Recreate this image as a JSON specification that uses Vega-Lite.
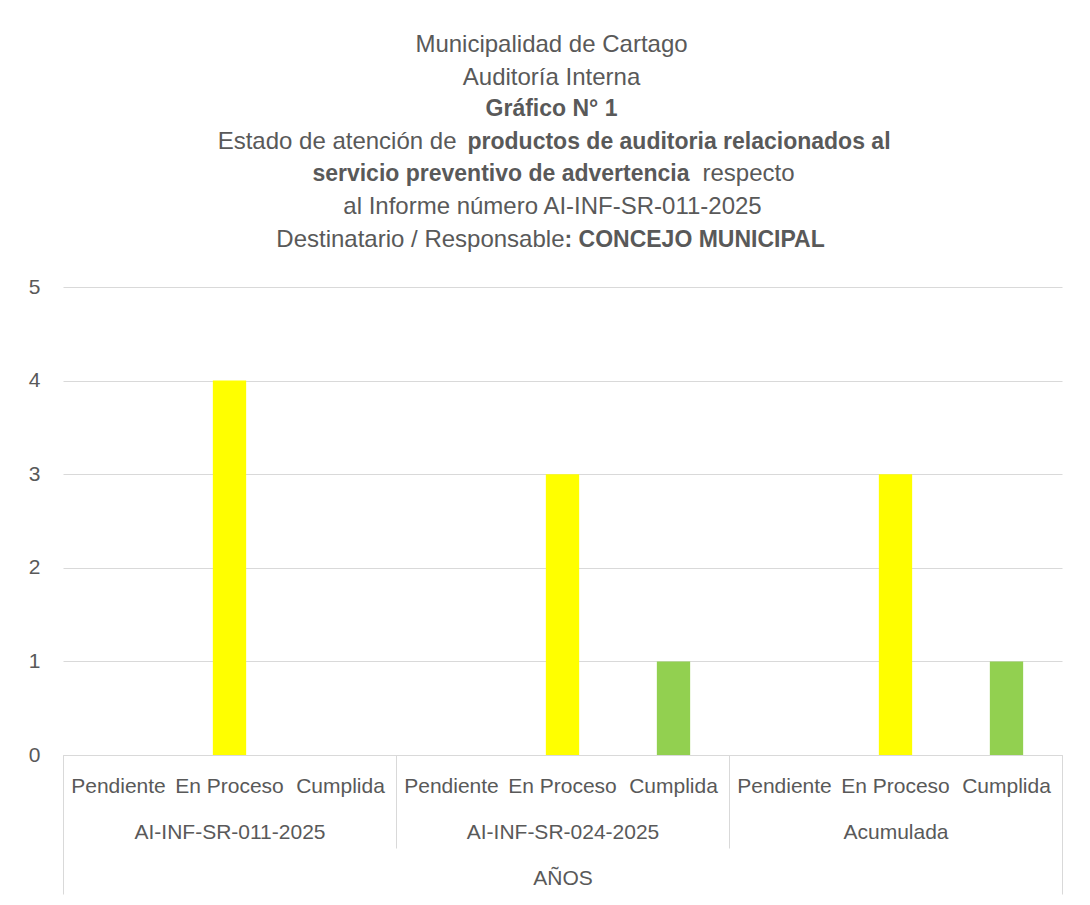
{
  "$schema": "https://vega.github.io/schema/vega-lite/v6.json",
  "background": "white",
  "padding": {"left": 28, "top": 33, "right": 30, "bottom": 5},
  "title": {
    "text": ["Municipalidad de Cartago", "Auditoría Interna"],
    "subtitle": "Gráfico N° 1",
    "anchor": "middle",
    "dx": -11,
    "font": "Liberation Sans",
    "fontSize": 24,
    "fontWeight": "normal",
    "color": "#595959",
    "lineHeight": 32.5,
    "subtitleFont": "Liberation Sans",
    "subtitleFontSize": 23,
    "subtitleFontWeight": "bold",
    "subtitleColor": "#595959",
    "subtitlePadding": 8.5,
    "offset": 8
  },
  "width": 999,
  "height": 468,
  "data": {
    "values": [
      {"grupo": "AI-INF-SR-011-2025", "estado": "Pendiente", "clave": "AI-INF-SR-011-2025|Pendiente", "cantidad": 0},
      {"grupo": "AI-INF-SR-011-2025", "estado": "En Proceso", "clave": "AI-INF-SR-011-2025|En Proceso", "cantidad": 4},
      {"grupo": "AI-INF-SR-011-2025", "estado": "Cumplida", "clave": "AI-INF-SR-011-2025|Cumplida", "cantidad": 0},
      {"grupo": "AI-INF-SR-024-2025", "estado": "Pendiente", "clave": "AI-INF-SR-024-2025|Pendiente", "cantidad": 0},
      {"grupo": "AI-INF-SR-024-2025", "estado": "En Proceso", "clave": "AI-INF-SR-024-2025|En Proceso", "cantidad": 3},
      {"grupo": "AI-INF-SR-024-2025", "estado": "Cumplida", "clave": "AI-INF-SR-024-2025|Cumplida", "cantidad": 1},
      {"grupo": "Acumulada", "estado": "Pendiente", "clave": "Acumulada|Pendiente", "cantidad": 0},
      {"grupo": "Acumulada", "estado": "En Proceso", "clave": "Acumulada|En Proceso", "cantidad": 3},
      {"grupo": "Acumulada", "estado": "Cumplida", "clave": "Acumulada|Cumplida", "cantidad": 1}
    ]
  },
  "layer": [
    {
      "mark": {"type": "bar"},
      "encoding": {
        "x": {
          "field": "clave",
          "type": "nominal",
          "sort": null,
          "scale": {
            "domain": ["AI-INF-SR-011-2025|Pendiente", "AI-INF-SR-011-2025|En Proceso", "AI-INF-SR-011-2025|Cumplida", "AI-INF-SR-024-2025|Pendiente", "AI-INF-SR-024-2025|En Proceso", "AI-INF-SR-024-2025|Cumplida", "Acumulada|Pendiente", "Acumulada|En Proceso", "Acumulada|Cumplida"],
            "paddingInner": 0.7,
            "paddingOuter": 0.35
          },
          "axis": {
            "orient": "bottom",
            "title": null,
            "labelExpr": "split(datum.value, '|')[1]",
            "labelAngle": 0,
            "ticks": false,
            "domain": true,
            "domainColor": "#d9d9d9",
            "domainWidth": 1,
            "grid": false,
            "labelFont": "Liberation Sans",
            "labelFontSize": 21,
            "labelColor": "#595959",
            "labelPadding": 20,
            "labelLimit": 400
          }
        },
        "y": {
          "field": "cantidad",
          "type": "quantitative",
          "scale": {"domain": [0, 5], "nice": false},
          "axis": {
            "values": [0, 1, 2, 3, 4, 5],
            "format": "d",
            "title": null,
            "domain": false,
            "ticks": false,
            "grid": true,
            "gridColor": "#d9d9d9",
            "gridWidth": 1,
            "labelFont": "Liberation Sans",
            "labelFontSize": 21,
            "labelColor": "#595959",
            "labelPadding": 23
          }
        },
        "color": {
          "field": "estado",
          "type": "nominal",
          "scale": {"domain": ["Pendiente", "En Proceso", "Cumplida"], "range": ["#FF0000", "#FFFF00", "#92D050"]},
          "legend": null
        }
      }
    },
    {
      "mark": {"type": "bar", "opacity": 0},
      "encoding": {
        "x": {
          "field": "grupo",
          "type": "nominal",
          "sort": null,
          "scale": {"type": "band", "domain": ["AI-INF-SR-011-2025", "AI-INF-SR-024-2025", "Acumulada"], "paddingInner": 0, "paddingOuter": 0},
          "axis": {
            "orient": "bottom",
            "title": "AÑOS",
            "titleFont": "Liberation Sans",
            "titleFontSize": 21,
            "titleFontWeight": "normal",
            "titleColor": "#595959",
            "titlePadding": 19,
            "labelAngle": 0,
            "labelFont": "Liberation Sans",
            "labelFontSize": 21,
            "labelColor": "#595959",
            "labelPadding": -26.5,
            "labelLimit": 400,
            "tickBand": "extent",
            "ticks": true,
            "tickSize": 93,
            "tickColor": "#d9d9d9",
            "tickWidth": 1,
            "domain": false,
            "grid": false
          }
        }
      }
    },
    {
      "mark": {"type": "bar", "opacity": 0},
      "encoding": {
        "x": {
          "field": "grupo",
          "type": "nominal",
          "sort": null,
          "scale": {"type": "band", "domain": ["AI-INF-SR-011-2025"], "paddingInner": 0, "paddingOuter": 0},
          "axis": {
            "orient": "bottom",
            "title": null,
            "labels": false,
            "tickBand": "extent",
            "values": ["AI-INF-SR-011-2025"],
            "ticks": true,
            "tickSize": 139,
            "tickColor": "#d9d9d9",
            "tickWidth": 1,
            "domain": false,
            "grid": false
          }
        }
      }
    },
    {
      "mark": {"type": "bar", "opacity": 0},
      "encoding": {
        "x": {
          "field": "grupo", "type": "nominal", "sort": null,
          "scale": {"type": "band", "domain": ["AI-INF-SR-011-2025", "AI-INF-SR-024-2025", "Acumulada"], "paddingInner": 0, "paddingOuter": 0},
          "axis": {
            "orient": "top", "labels": false, "ticks": false, "domain": false, "grid": false,
            "title": "Estado de atención de",
            "titleFont": "Liberation Sans", "titleFontSize": 24, "titleFontWeight": "normal", "titleColor": "#595959",
            "titleAlign": "right", "titleX": 393, "titlePadding": 134
          }
        }
      }
    },
    {
      "mark": {"type": "bar", "opacity": 0},
      "encoding": {
        "x": {
          "field": "grupo", "type": "nominal", "sort": null,
          "scale": {"type": "band", "domain": ["AI-INF-SR-011-2025", "AI-INF-SR-024-2025", "Acumulada"], "paddingInner": 0, "paddingOuter": 0},
          "axis": {
            "orient": "top", "labels": false, "ticks": false, "domain": false, "grid": false,
            "title": "productos de auditoria relacionados al",
            "titleFont": "Liberation Sans", "titleFontSize": 23, "titleFontWeight": "bold", "titleColor": "#595959",
            "titleAlign": "left", "titleX": 404, "titlePadding": 134
          }
        }
      }
    },
    {
      "mark": {"type": "bar", "opacity": 0},
      "encoding": {
        "x": {
          "field": "grupo", "type": "nominal", "sort": null,
          "scale": {"type": "band", "domain": ["AI-INF-SR-011-2025", "AI-INF-SR-024-2025", "Acumulada"], "paddingInner": 0, "paddingOuter": 0},
          "axis": {
            "orient": "top", "labels": false, "ticks": false, "domain": false, "grid": false,
            "title": "servicio preventivo de advertencia",
            "titleFont": "Liberation Sans", "titleFontSize": 23, "titleFontWeight": "bold", "titleColor": "#595959",
            "titleAlign": "right", "titleX": 626, "titlePadding": 102
          }
        }
      }
    },
    {
      "mark": {"type": "bar", "opacity": 0},
      "encoding": {
        "x": {
          "field": "grupo", "type": "nominal", "sort": null,
          "scale": {"type": "band", "domain": ["AI-INF-SR-011-2025", "AI-INF-SR-024-2025", "Acumulada"], "paddingInner": 0, "paddingOuter": 0},
          "axis": {
            "orient": "top", "labels": false, "ticks": false, "domain": false, "grid": false,
            "title": "respecto",
            "titleFont": "Liberation Sans", "titleFontSize": 24, "titleFontWeight": "normal", "titleColor": "#595959",
            "titleAlign": "left", "titleX": 639, "titlePadding": 102
          }
        }
      }
    },
    {
      "mark": {"type": "bar", "opacity": 0},
      "encoding": {
        "x": {
          "field": "grupo", "type": "nominal", "sort": null,
          "scale": {"type": "band", "domain": ["AI-INF-SR-011-2025", "AI-INF-SR-024-2025", "Acumulada"], "paddingInner": 0, "paddingOuter": 0},
          "axis": {
            "orient": "top", "labels": false, "ticks": false, "domain": false, "grid": false,
            "title": "al Informe número AI-INF-SR-011-2025",
            "titleFont": "Liberation Sans", "titleFontSize": 24, "titleFontWeight": "normal", "titleColor": "#595959",
            "titleX": 489, "titlePadding": 69
          }
        }
      }
    },
    {
      "mark": {"type": "bar", "opacity": 0},
      "encoding": {
        "x": {
          "field": "grupo", "type": "nominal", "sort": null,
          "scale": {"type": "band", "domain": ["AI-INF-SR-011-2025", "AI-INF-SR-024-2025", "Acumulada"], "paddingInner": 0, "paddingOuter": 0},
          "axis": {
            "orient": "top", "labels": false, "ticks": false, "domain": false, "grid": false,
            "title": "Destinatario / Responsable",
            "titleFont": "Liberation Sans", "titleFontSize": 24, "titleFontWeight": "normal", "titleColor": "#595959",
            "titleAlign": "right", "titleX": 501, "titlePadding": 36
          }
        }
      }
    },
    {
      "mark": {"type": "bar", "opacity": 0},
      "encoding": {
        "x": {
          "field": "grupo", "type": "nominal", "sort": null,
          "scale": {"type": "band", "domain": ["AI-INF-SR-011-2025", "AI-INF-SR-024-2025", "Acumulada"], "paddingInner": 0, "paddingOuter": 0},
          "axis": {
            "orient": "top", "labels": false, "ticks": false, "domain": false, "grid": false,
            "title": ":  CONCEJO MUNICIPAL",
            "titleFont": "Liberation Sans", "titleFontSize": 23, "titleFontWeight": "bold", "titleColor": "#595959",
            "titleAlign": "left", "titleX": 501, "titlePadding": 36
          }
        }
      }
    }
  ],
  "resolve": {"scale": {"x": "independent"}, "axis": {"x": "independent"}},
  "config": {
    "view": {"stroke": null},
    "font": "Liberation Sans"
  }
}
